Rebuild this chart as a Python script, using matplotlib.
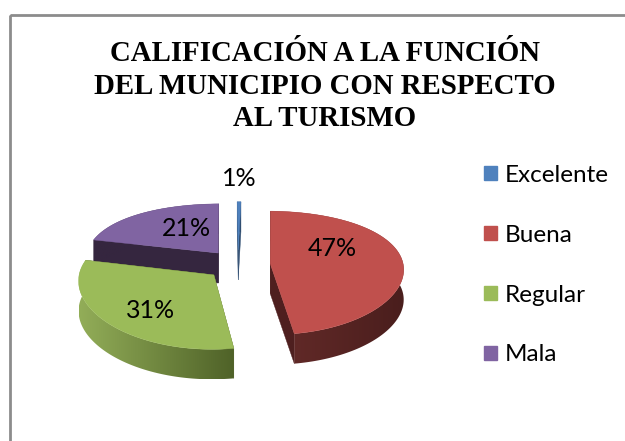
import matplotlib
matplotlib.use('Agg')
import matplotlib.pyplot as plt
import numpy as np
from matplotlib.colors import to_rgb
from matplotlib.patches import Patch, Polygon, Rectangle

# Data (the blue sliver is thinner than its rounded 1% label)
categories = ['Excelente', 'Buena', 'Regular', 'Mala']
values = [0.5, 47, 31, 21]
labels = ['1%', '47%', '31%', '21%']
title = 'CALIFICACIÓN A LA FUNCIÓN\nDEL MUNICIPIO CON RESPECTO\nAL TURISMO'

# Colours: top face, wall at the left end, wall at the right end, cut face
top_colors = ['#4f81bd', '#c0504d', '#9bbb59', '#8064a2']
wall_left = ['#2f4d71', '#652b29', '#92ad58', '#35263f']
wall_right = ['#2f4d71', '#4a1e1d', '#4f6228', '#35263f']
cut_colors = ['#2f4d71', '#4e1f1f', '#4f6228', '#35263f']

# Layout of the fake 3D pie, in pixels
center_x, center_y = 238, 264.5
radius_x, radius_y = 133, 62
depth = 30
explode = 0.243
persp_y, persp_x = 0.15, 0.08
start_angle = -0.5
label_pos = [(239, 178), (332, 249), (151, 310), (186, 228)]


# Unit disc to picture, the front of the pie comes out a bit bigger
def project(u, v):
    x = center_x + radius_x * u * (1 + persp_x * v)
    y = center_y + radius_y * v * (1 + persp_y * v)
    return x, y


def draw_slice(ax, a0, a1, i):
    mid = np.radians((a0 + a1) / 2)
    off_u, off_v = explode * np.sin(mid), -explode * np.cos(mid)
    angles = np.radians(np.linspace(a0, a1, 120))
    xs, ys = project(off_u + np.sin(angles), off_v - np.cos(angles))
    apex = project(off_u, off_v)

    # Cut faces
    for end in (0, -1):
        quad = [apex, (xs[end], ys[end]), (xs[end], ys[end] + depth), (apex[0], apex[1] + depth)]
        ax.add_patch(Polygon(quad, facecolor=cut_colors[i], edgecolor=cut_colors[i], lw=0.3))

    # Outer wall, a horizontal gradient clipped to the wall shape
    wall = Polygon(list(zip(xs, ys)) + list(zip(xs[::-1], ys[::-1] + depth)), transform=ax.transData)
    left, right = np.array(to_rgb(wall_left[i])), np.array(to_rgb(wall_right[i]))
    ramp = np.linspace(0, 1, 64)[None, :, None]
    img = ax.imshow(left + (right - left) * ramp, aspect='auto', zorder=1, interpolation='bilinear',
                    extent=(xs.min(), xs.max(), ys.max() + depth, ys.min()))
    ax.add_patch(Polygon(wall.get_xy(), fill=False, edgecolor='none'))
    img.set_clip_path(wall)
    img.set_zorder(ax.zorder_next)
    ax.zorder_next += 1

    # Top face
    top = [apex] + list(zip(xs, ys))
    ax.add_patch(Polygon(top, facecolor=top_colors[i], edgecolor=top_colors[i], lw=0.3, zorder=ax.zorder_next))
    ax.zorder_next += 1


fig = plt.figure(figsize=(6.25, 4.41), dpi=100)
ax = fig.add_axes([0, 0, 1, 1])
ax.axis('off')
ax.zorder_next = 2

# Chart frame runs off the picture on the right and at the bottom
ax.add_patch(Rectangle((10, 15), 640, 450, fill=False, edgecolor='#8c8c8c', lw=2))

ax.text(325, 86, title, ha='center', va='center', family='Liberation Serif',
        fontweight='bold', fontsize=20.8, linespacing=1.27, color='black')

# Slice angles from the values, drawn back to front
total = sum(values)
edges = start_angle + np.cumsum([0] + values) * 360 / total
for i in [0, 3, 1, 2]:
    draw_slice(ax, edges[i], edges[i + 1], i)

ax.set_xlim(0, 625)
ax.set_ylim(441, 0)

for i, lab in enumerate(labels):
    ax.text(label_pos[i][0], label_pos[i][1], lab, ha='center', va='center',
            family='Lato', fontsize=18, color='black', zorder=50)

handles = [Patch(facecolor=c, edgecolor=c) for c in top_colors]
ax.legend(handles, categories, loc='upper left', bbox_to_anchor=(474.5 / 625, 1 - 155 / 441),
          frameon=False, prop={'family': 'Lato', 'size': 17.5}, handlelength=0.53, handleheight=0.53,
          handletextpad=0.33, labelspacing=1.6, borderpad=0.4, borderaxespad=0)

fig.savefig('out.png', dpi=100)
